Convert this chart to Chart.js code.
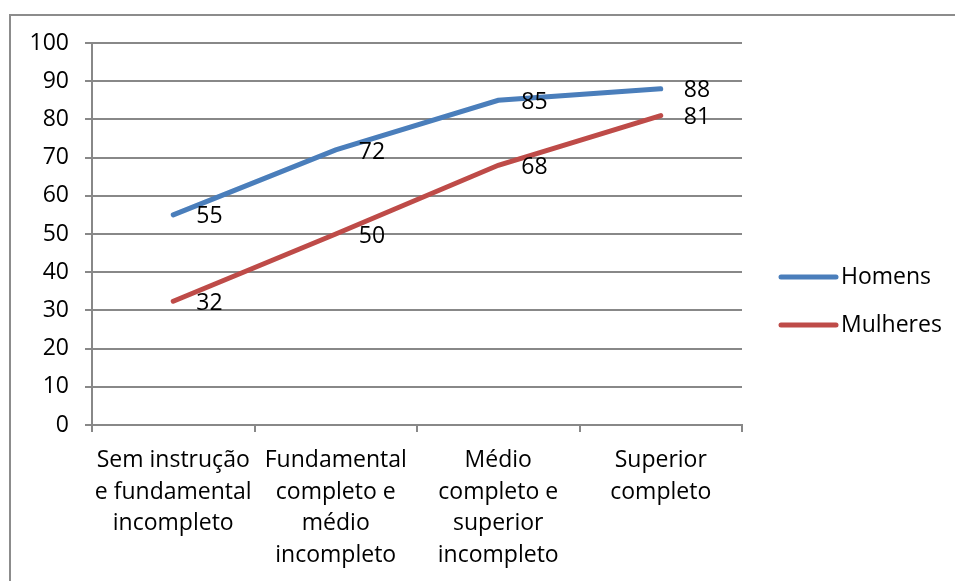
<!DOCTYPE html>
<html>
<head>
<meta charset="utf-8">
<script src="https://cdn.jsdelivr.net/npm/chart.js@4"></script>
<style>
    html, body { margin: 0; padding: 0; background: #fff; }
    #wrap { position: relative; width: 955px; height: 581px; overflow: hidden; }
    #frame { position: absolute; left: 9px; top: 14px; width: 1000px; height: 700px; border: 2px solid #8c8c8c; box-sizing: border-box; }
    canvas { position: absolute; left: 0; top: 0; }
</style>
</head>
<body>
<div id="wrap">
    <div id="frame"></div>
    <canvas id="lineChart" width="955" height="581"></canvas>
</div>
<script>
// chart data
const categories = [
    ['Sem instrução', 'e fundamental', 'incompleto'],
    ['Fundamental', 'completo e', 'médio', 'incompleto'],
    ['Médio', 'completo e', 'superior', 'incompleto'],
    ['Superior', 'completo']
];
const homens = [55, 72, 85, 88];
const mulheres = [32.4, 50, 68, 81];
const seriesNames = ['Homens', 'Mulheres'];
const yTicks = [0, 10, 20, 30, 40, 50, 60, 70, 80, 90, 100];

const FONT = "'Open Sans', sans-serif";
const gridColor = '#888888';

// value labels next to each point
const valueLabels = {
    id: 'valueLabels',
    afterDatasetsDraw(chart) {
        const ctx = chart.ctx;
        ctx.save();
        ctx.font = '23px ' + FONT;
        ctx.fillStyle = '#000';
        ctx.textAlign = 'left';
        ctx.textBaseline = 'middle';
        chart.data.datasets.forEach((ds, i) => {
            chart.getDatasetMeta(i).data.forEach((pt, j) => {
                ctx.fillText(Math.round(ds.data[j]), pt.x + 23, pt.y + 2);
            });
        });
        ctx.restore();
    }
};

// legend on the right side
const sideLegend = {
    id: 'sideLegend',
    afterDraw(chart) {
        const ctx = chart.ctx;
        const area = chart.chartArea;
        ctx.save();
        ctx.font = '23px ' + FONT;
        ctx.textBaseline = 'middle';
        chart.data.datasets.forEach((ds, i) => {
            const y = 277 + i * 48;
            ctx.strokeStyle = ds.borderColor;
            ctx.lineWidth = 5;
            ctx.lineCap = 'round';
            ctx.beginPath();
            ctx.moveTo(area.right + 39, y);
            ctx.lineTo(area.right + 94, y);
            ctx.stroke();
            ctx.fillStyle = '#000';
            ctx.fillText(ds.label, area.right + 99, y);
        });
        ctx.restore();
    }
};

new Chart(document.getElementById('lineChart'), {
    type: 'line',
    data: {
        labels: categories,
        datasets: [
            {
                label: seriesNames[0],
                data: homens,
                borderColor: '#4a7ebb',
                borderWidth: 5,
                pointRadius: 0,
                tension: 0,
                borderCapStyle: 'round'
            },
            {
                label: seriesNames[1],
                data: mulheres,
                borderColor: '#be4b48',
                borderWidth: 5,
                pointRadius: 0,
                tension: 0,
                borderCapStyle: 'round'
            }
        ]
    },
    options: {
        responsive: false,
        animation: false,
        layout: { padding: { left: 0, top: 43, right: 213, bottom: 0 } },
        plugins: {
            legend: { display: false },
            tooltip: { enabled: false }
        },
        scales: {
            x: {
                offset: true,
                afterFit(scale) { scale.height = 581 - 425; },
                grid: {
                    offset: true,
                    drawOnChartArea: false,
                    drawTicks: true,
                    tickLength: 7,
                    color: gridColor,
                    lineWidth: 2
                },
                border: { color: gridColor, width: 2 },
                ticks: {
                    color: '#000',
                    maxRotation: 0,
                    autoSkip: false,
                    padding: 12,
                    font: { family: FONT, size: 23, lineHeight: 1.39 }
                }
            },
            y: {
                min: 0,
                max: 100,
                afterFit(scale) { scale.width = 92; },
                afterBuildTicks(scale) { scale.ticks = yTicks.map(v => ({ value: v })); },
                grid: {
                    color: gridColor,
                    lineWidth: 2,
                    tickLength: 7
                },
                border: { color: gridColor, width: 2 },
                ticks: {
                    color: '#000',
                    padding: 16,
                    font: { family: FONT, size: 23 }
                }
            }
        }
    },
    plugins: [valueLabels, sideLegend]
});
</script>
</body>
</html>
